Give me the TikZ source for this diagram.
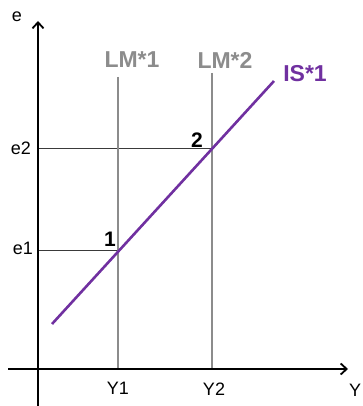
\documentclass[tikz,border=0pt]{standalone}
\usepackage{fontspec}
\setmainfont{Liberation Sans}
\usetikzlibrary{arrows.meta,positioning}
\definecolor{lmgray}{HTML}{8C8C8C}
\definecolor{ispurple}{HTML}{7030A0}
\definecolor{guidegray}{HTML}{3A3A3A}
\tikzset{
  axis/.style={-{Straight Barb[length=6pt,width=11pt,line width=1.8pt]},line width=2.9pt,draw=black},
  lmline/.style={line width=2.6pt,draw=lmgray},
  isline/.style={line width=2.6pt,draw=ispurple},
  guide/.style={line width=1pt,draw=guidegray},
  axislabel/.style={inner sep=0pt,font=\fontsize{18}{18}\selectfont},
  curvelabel/.style={inner sep=0pt,font=\fontsize{23}{23}\selectfont\bfseries,text=lmgray},
  islabel/.style={curvelabel,text=ispurple},
  ptlabel/.style={inner sep=0pt,font=\fontsize{21}{21}\selectfont\bfseries}
}
\begin{document}
\begin{tikzpicture}[x=1pt,y=-1pt]
  \useasboundingbox (0,0) rectangle (363,406);
  % axes
  \coordinate (o) at (38,369);
  \coordinate (ytop) at (38,21);
  \coordinate (ybot) at (38,406);
  \coordinate (xleft) at (8,369);
  \coordinate (xright) at (348,369);
  \node[axislabel] (elab) at (17,17) {e};
  \node[axislabel,anchor=west] (ylab) at (349,390) {Y};

  % equilibrium points
  \coordinate (p1) at (118,250);
  \coordinate (p2) at (212,148);
  \coordinate (lm1top) at (118,77);
  \coordinate (lm2top) at (212,73);
  \coordinate (isbot) at (52,324);
  \coordinate (istop) at (274,81);

  \draw[guide] (o |- p1) -- (p1);
  \draw[guide] (o |- p2) -- (p2);
  \draw[lmline] (lm1top) -- (lm1top |- o);
  \draw[lmline] (lm2top) -- (lm2top |- o);
  \draw[isline] (isbot) -- (istop);
  \draw[axis] (ybot) -- (ytop);
  \draw[axis] (xleft) -- (xright);

  \node[curvelabel] (lm1lab) at (132,60) {LM*1};
  \node[curvelabel] (lm2lab) at (225,60) {LM*2};
  \node[islabel] (islab) at (305,74) {IS*1};
  \node[ptlabel] (p1lab) at (110,239) {1};
  \node[ptlabel] (p2lab) at (197,140) {2};
  \node[axislabel] (e1lab) at (23,248) {e1};
  \node[axislabel] (e2lab) at (21,148) {e2};
  \node[axislabel] (y1lab) at (118,388) {Y1};
  \node[axislabel] (y2lab) at (214,389) {Y2};
\end{tikzpicture}
\end{document}
